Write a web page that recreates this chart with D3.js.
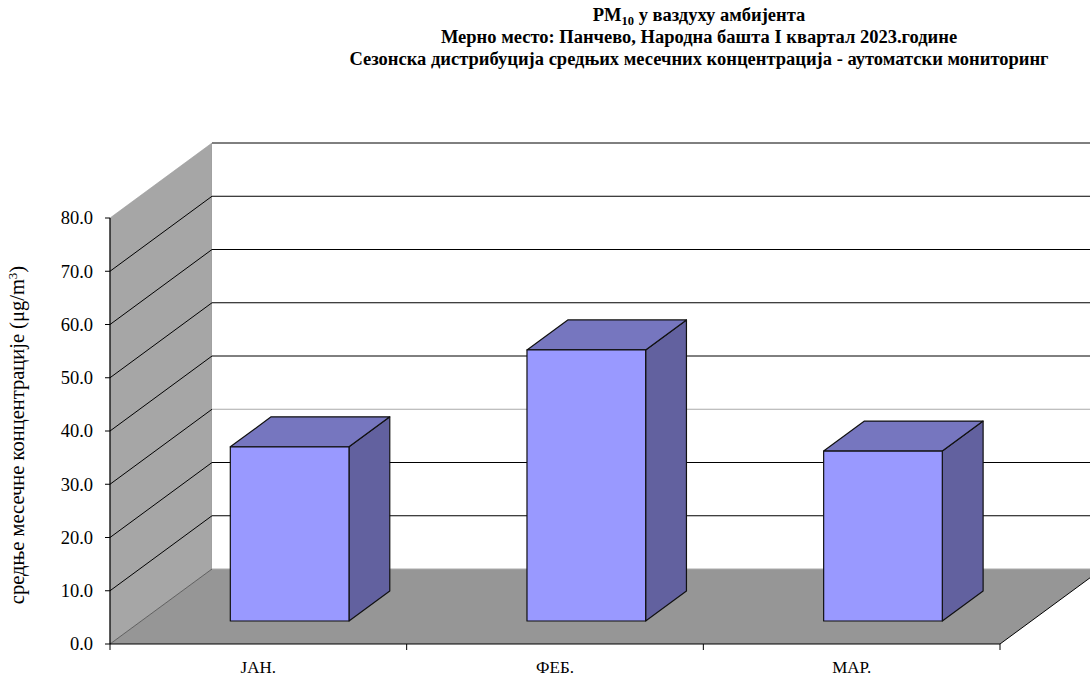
<html lang="sr">
<head>
<meta charset="utf-8">
<title>PM10 Панчево</title>
<script src="https://cdn.jsdelivr.net/npm/d3@7"></script>
<style>
  body { margin: 0; background: white; }
  text { font-family: "Liberation Serif", "Times New Roman", serif; fill: #000; }
  .title { font-weight: bold; font-size: 18.5px; }
</style>
</head>
<body>
<div id="chart"></div>
<script>
// data
var months = ["ЈАН.", "ФЕБ.", "МАР."];
var pm10 = [32.7, 50.9, 31.9];
var yTicks = [0, 10, 20, 30, 40, 50, 60, 70, 80];
var titleLines = ["у ваздуху амбијента",
  "Мерно место: Панчево, Народна башта I квартал 2023.године",
  "Сезонска дистрибуција средњих месечних концентрација - аутоматски мониторинг"];
var yLabel = "средње месечне концентрације (μg/m";

var width = 1090, height = 677;
var svg = d3.select("#chart").append("svg")
  .attr("width", width).attr("height", height);

// front plane scales
var x = d3.scaleBand().domain(months).range([110, 1000]).paddingInner(0).paddingOuter(0);
var y = d3.scaleLinear().domain([0, 80]).range([644, 218]);

// depth offset (oblique projection)
var DX = 102, DY = -75;
function P(px, py, z) { return [px + DX * z, py + DY * z]; }
function poly(pts) { return pts.map(function(p){ return p.join(","); }).join(" "); }

var x0 = x.range()[0], x1 = x.range()[1];

// left wall
svg.append("polygon")
  .attr("points", poly([P(x0, y(0), 0), P(x0, y(80), 0), P(x0, y(80), 1), P(x0, y(0), 1)]))
  .attr("fill", "#a6a6a6").attr("stroke", "#999").attr("stroke-width", 0.6);

// back wall
svg.append("polygon")
  .attr("points", poly([P(x0, y(0), 1), P(x0, y(80), 1), P(x1, y(80), 1), P(x1, y(0), 1)]))
  .attr("fill", "#fff");

// floor
svg.append("polygon")
  .attr("points", poly([P(x0, y(0), 0), P(x1, y(0), 0), P(x1, y(0), 1), P(x0, y(0), 1)]))
  .attr("fill", "#969696");

// gridlines on left and back walls
yTicks.filter(function(v){ return v > 0; }).forEach(function(v) {
  var a = P(x0, y(v), 0), b = P(x0, y(v), 1), c = P(x1, y(v), 1);
  if (v < 80) {
    svg.append("line").attr("x1", a[0]).attr("y1", a[1]).attr("x2", b[0]).attr("y2", b[1])
      .attr("stroke", "#000").attr("stroke-width", 1);
  }
  svg.append("line").attr("x1", b[0]).attr("y1", b[1]).attr("x2", c[0]).attr("y2", c[1])
    .attr("stroke", v === 30 ? "#aaa" : "#000").attr("stroke-width", 1);
});

// floor edges
var f0 = P(x0, y(0), 0), f1 = P(x1, y(0), 0), f2 = P(x1, y(0), 1), f3 = P(x0, y(0), 1);
svg.append("line").attr("x1", f3[0]).attr("y1", f3[1]).attr("x2", f2[0]).attr("y2", f2[1])
  .attr("stroke", "#aaa").attr("stroke-width", 1);
svg.append("line").attr("x1", f0[0]).attr("y1", f0[1]).attr("x2", f3[0]).attr("y2", f3[1])
  .attr("stroke", "#444").attr("stroke-width", 0.7);
svg.append("line").attr("x1", f0[0]).attr("y1", f0[1]).attr("x2", f1[0]).attr("y2", f1[1])
  .attr("stroke", "#000").attr("stroke-width", 1);
svg.append("line").attr("x1", f1[0]).attr("y1", f1[1]).attr("x2", f2[0]).attr("y2", f2[1])
  .attr("stroke", "#000").attr("stroke-width", 1);

// value axis
svg.append("line").attr("x1", x0).attr("y1", y(0)).attr("x2", x0).attr("y2", y(80))
  .attr("stroke", "#000").attr("stroke-width", 1.2);
var yAxis = svg.append("g");
yTicks.forEach(function(v) {
  yAxis.append("line").attr("x1", x0 - 5).attr("x2", x0).attr("y1", y(v)).attr("y2", y(v))
    .attr("stroke", "#000");
  yAxis.append("text").attr("x", 93).attr("y", y(v)).attr("dy", "0.35em")
    .attr("text-anchor", "end").style("font-size", "18.5px").text(d3.format(".1f")(v));
});

// category axis
var catTicks = months.map(function(m){ return x(m); }).concat([x1]);
catTicks.forEach(function(t) {
  svg.append("line").attr("x1", t).attr("x2", t).attr("y1", y(0)).attr("y2", y(0) + 6)
    .attr("stroke", "#000");
});
months.forEach(function(m) {
  svg.append("text").attr("x", x(m) + x.bandwidth() / 2).attr("y", 673)
    .attr("text-anchor", "middle").style("font-size", "17px").text(m);
});

// bars
var zFront = 0.307, zBack = 0.707, barFrac = 0.4;
var bars = svg.append("g");
months.forEach(function(m, i) {
  var bw = x.bandwidth() * barFrac;
  var bx0 = x(m) + (x.bandwidth() - bw) / 2, bx1 = bx0 + bw;
  var yb = y(0), yt = y(pm10[i]);
  var g = bars.append("g");
  // side
  g.append("polygon")
    .attr("points", poly([P(bx1, yb, zFront), P(bx1, yt, zFront), P(bx1, yt, zBack), P(bx1, yb, zBack)]))
    .attr("fill", "#62619f").attr("stroke", "#111").attr("stroke-width", 1.2).attr("stroke-linejoin", "round");
  // top
  g.append("polygon")
    .attr("points", poly([P(bx0, yt, zFront), P(bx1, yt, zFront), P(bx1, yt, zBack), P(bx0, yt, zBack)]))
    .attr("fill", "#7676bf").attr("stroke", "#111").attr("stroke-width", 1.2).attr("stroke-linejoin", "round");
  // front
  g.append("polygon")
    .attr("points", poly([P(bx0, yb, zFront), P(bx0, yt, zFront), P(bx1, yt, zFront), P(bx1, yb, zFront)]))
    .attr("fill", "#9999ff").attr("stroke", "#111").attr("stroke-width", 1.2).attr("stroke-linejoin", "round");
});

// title
var title = svg.append("g");
var t1 = title.append("text").attr("class", "title").attr("x", 699).attr("y", 21).attr("text-anchor", "middle");
t1.append("tspan").text("PM");
t1.append("tspan").attr("dy", 4).style("font-size", "12.5px").text("10");
t1.append("tspan").attr("dy", -4).text(" " + titleLines[0]);
title.append("text").attr("class", "title").attr("x", 699).attr("y", 43).attr("text-anchor", "middle").text(titleLines[1]);
title.append("text").attr("class", "title").attr("x", 699).attr("y", 65).attr("text-anchor", "middle").text(titleLines[2]);

// y axis label
var yl = svg.append("text").attr("transform", "translate(24,435) rotate(-90)")
  .attr("text-anchor", "middle").style("font-size", "20.5px");
yl.append("tspan").text(yLabel);
yl.append("tspan").attr("dy", -7).style("font-size", "13px").text("3");
yl.append("tspan").attr("dy", 7).text(")");
</script>
</body>
</html>
